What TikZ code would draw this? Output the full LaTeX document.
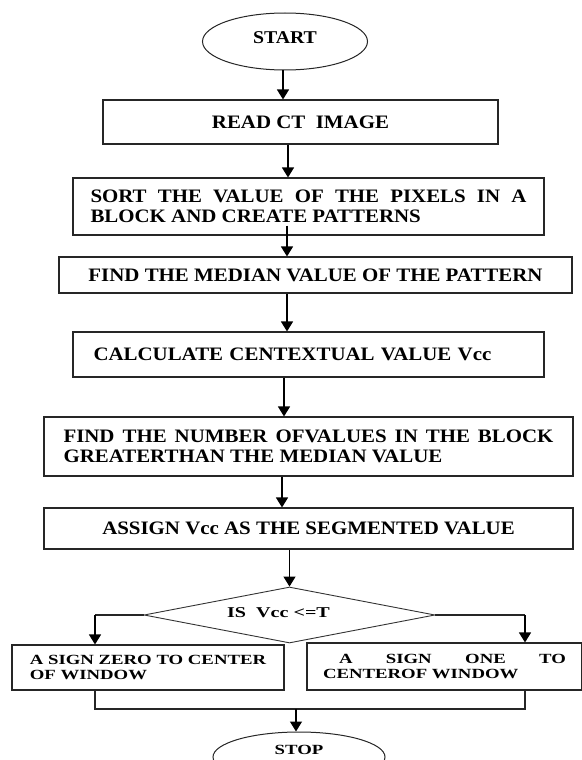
\documentclass[tikz,border=0pt]{standalone}
\usepackage{fontspec}
\setmainfont{Liberation Serif}
\newfontfamily\mainf[FakeStretch=1.1]{Liberation Serif}
\newfontfamily\smallf[FakeStretch=1.34]{Liberation Serif}
\usetikzlibrary{shapes.geometric,arrows.meta}
\begin{document}
\begin{tikzpicture}[x=1pt,y=-1pt,
  box/.style={draw=black!85,line width=1.1pt,rectangle,inner sep=0pt,
    font=\mainf\bfseries\fontsize{19}{20}\selectfont},
  sbox/.style={draw=black!85,line width=1.1pt,rectangle,inner sep=0pt,
    font=\smallf\bfseries\fontsize{14}{15}\selectfont},
  term/.style={draw=black!85,line width=1pt,ellipse,inner sep=0pt},
  dia/.style={draw=black!80,line width=0.9pt,diamond,aspect=5,inner sep=0pt,
    font=\smallf\bfseries\fontsize{15}{15}\selectfont},
  arr/.style={-{Triangle[length=10pt,width=12pt]},line width=1.3pt,black},
  link/.style={line width=1.1pt,black!85}]
\useasboundingbox (0,0) rectangle (581,760);
\node[term,minimum width=165pt,minimum height=57pt,
  font=\mainf\bfseries\fontsize{18}{20}\selectfont] (start) at (285,41.5)
  {\raisebox{3.5pt}[\height][\depth]{START}};
\node[box,minimum width=395pt,minimum height=44pt] (read) at (300.5,122)
  {READ CT\ \ IMAGE};
\node[box,minimum width=471pt,minimum height=57pt,align=left] (sort) at (308.5,206.5)
  {\makebox[436pt][s]{SORT THE VALUE OF THE PIXELS IN A}\\BLOCK AND CREATE PATTERNS};
\node[box,minimum width=513pt,minimum height=36pt] (median) at (315.5,275)
  {FIND THE MEDIAN VALUE OF THE PATTERN};
\node[box,minimum width=471pt,minimum height=45pt,text width=430pt,align=left] (calc) at (308.5,354.5)
  {CALCULATE CENTEXTUAL VALUE Vcc};
\node[box,minimum width=529pt,minimum height=59pt,align=left] (count) at (308.5,446.5)
  {\makebox[490pt][s]{FIND THE NUMBER OFVALUES IN THE BLOCK}\\GREATERTHAN THE MEDIAN VALUE};
\node[box,minimum width=529pt,minimum height=41pt] (assign) at (308.5,528.5)
  {ASSIGN Vcc AS THE SEGMENTED VALUE};
\node[dia,minimum width=291pt,minimum height=56pt] (test) at (289.5,615)
  {\raisebox{2pt}[\height][\depth]{IS\ \ Vcc <=T}\hspace*{22pt}};
\node[sbox,minimum width=272pt,minimum height=45pt,align=left] (zero) at (148,667.5)
  {A SIGN ZERO TO CENTER\\OF WINDOW};
\node[sbox,minimum width=275pt,minimum height=47pt,align=left] (one) at (444.5,666.5)
  {\hspace*{16pt}\makebox[227pt][s]{A SIGN ONE TO}\\CENTEROF WINDOW};
\node[term,minimum width=172pt,minimum height=50pt,
  font=\smallf\bfseries\fontsize{14}{15}\selectfont] (stop) at (299,757)
  {\raisebox{7pt}[\height][\depth]{STOP}};
\coordinate (lj) at (95,615);
\coordinate (rj) at (525,615);
\coordinate (bl) at (95,709);
\coordinate (br) at (525,709);
\coordinate (bm) at (296,709);
\draw[arr] ([xshift=-2pt]start.south) -- ([xshift=-2pt]start.south |- read.north);
\draw[arr] ([xshift=-12.5pt]read.south) -- ([xshift=-12.5pt]read.south |- sort.north);
\draw[arr] ([xshift=-21.5pt,yshift=10pt]sort.south) -- ([xshift=-21.5pt]sort.south |- median.north);
\draw[arr] ([xshift=-28.5pt]median.south) -- ([xshift=-28.5pt]median.south |- calc.north);
\draw[arr] ([xshift=-24.5pt]calc.south) -- ([xshift=-24.5pt]calc.south |- count.north);
\draw[arr] ([xshift=-26.5pt]count.south) -- ([xshift=-26.5pt]count.south |- assign.north);
\draw[arr] (test.north |- assign.south) -- (test.north);
\draw[link] (test.west) -- (lj);
\draw[arr] (lj) -- (lj |- zero.north);
\draw[link] (test.east) -- (rj);
\draw[arr] (rj) -- (rj |- one.north);
\draw[link] (bl |- zero.south) -- (bl) -- (br) -- (br |- one.south);
\draw[arr] (bm) -- (bm |- stop.north);
\end{tikzpicture}
\end{document}
